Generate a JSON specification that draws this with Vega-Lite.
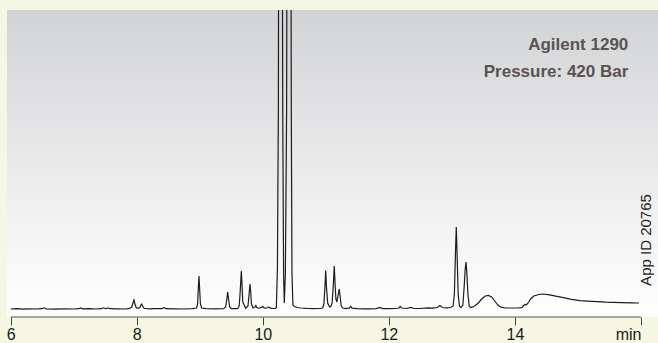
{
  "$schema": "https://vega.github.io/schema/vega-lite/v6.json",
  "autosize": "none",
  "width": 651,
  "height": 307,
  "padding": {"left": 7, "top": 10, "right": 0, "bottom": 26},
  "background": "#f5f7e3",
  "config": {
    "view": {
      "stroke": null,
      "fill": {"gradient": "linear", "x1": 0, "y1": 0, "x2": 0, "y2": 1,
        "stops": [{"offset": 0, "color": "#d2d3d5"}, {"offset": 0.6, "color": "#eeeeef"}, {"offset": 1, "color": "#ffffff"}]}
    },
    "font": "Liberation Sans"
  },
  "layer": [
    {
      "data": {"values": [
        {"t":6.00,"v":0},{"t":6.10,"v":0.3},{"t":6.20,"v":-0.2},{"t":6.30,"v":0.2},{"t":6.40,"v":0},{"t":6.50,"v":0.3},{"t":6.53,"v":1.2},{"t":6.56,"v":0.2},{"t":6.70,"v":-0.1},{"t":6.85,"v":0.2},
        {"t":7.00,"v":0},{"t":7.08,"v":0.3},{"t":7.11,"v":1.0},{"t":7.14,"v":0.2},{"t":7.25,"v":0.3},{"t":7.35,"v":0},{"t":7.44,"v":0.3},{"t":7.47,"v":1.2},{"t":7.50,"v":0.3},{"t":7.55,"v":1.0},{"t":7.58,"v":0.3},{"t":7.70,"v":0.2},{"t":7.80,"v":0},{"t":7.88,"v":0.3},
        {"t":7.92,"v":2},{"t":7.945,"v":7},{"t":7.956,"v":9},{"t":7.967,"v":6},{"t":7.99,"v":1.5},{"t":8.02,"v":0.6},{"t":8.05,"v":1.5},{"t":8.07,"v":4.5},{"t":8.078,"v":5},{"t":8.09,"v":3.5},{"t":8.115,"v":0.7},
        {"t":8.2,"v":0.2},{"t":8.3,"v":0.4},{"t":8.4,"v":0.3},{"t":8.43,"v":1.5},{"t":8.46,"v":0.3},{"t":8.6,"v":0.2},{"t":8.75,"v":0},{"t":8.88,"v":0.4},
        {"t":8.95,"v":1},{"t":8.965,"v":5},{"t":8.977,"v":21},{"t":8.987,"v":33},{"t":8.997,"v":21},{"t":9.01,"v":5},{"t":9.03,"v":1},
        {"t":9.1,"v":0.3},{"t":9.25,"v":0.2},{"t":9.38,"v":0.3},
        {"t":9.41,"v":2},{"t":9.432,"v":11},{"t":9.443,"v":17},{"t":9.454,"v":11},{"t":9.475,"v":2},{"t":9.5,"v":0.4},{"t":9.6,"v":0.3},
        {"t":9.625,"v":3},{"t":9.638,"v":14},{"t":9.649,"v":26},{"t":9.659,"v":38},{"t":9.669,"v":26},{"t":9.682,"v":7},{"t":9.73,"v":0.8},
        {"t":9.765,"v":3},{"t":9.777,"v":11},{"t":9.787,"v":18},{"t":9.797,"v":25},{"t":9.807,"v":18},{"t":9.82,"v":5},{"t":9.845,"v":1},
        {"t":9.875,"v":2},{"t":9.89,"v":3.5},{"t":9.905,"v":1.5},{"t":9.93,"v":0.8},{"t":9.96,"v":1},{"t":10.0,"v":2.5},{"t":10.02,"v":1},{"t":10.05,"v":0.8},{"t":10.08,"v":1.5},{"t":10.095,"v":2},{"t":10.12,"v":0.8},{"t":10.16,"v":0.5},{"t":10.2,"v":0.5},
        {"t":10.215,"v":1.5},{"t":10.232,"v":40},{"t":10.247,"v":200},{"t":10.262,"v":800},{"t":10.277,"v":1500},{"t":10.295,"v":800},{"t":10.316,"v":200},{"t":10.33,"v":35},{"t":10.341,"v":6},
        {"t":10.358,"v":35},{"t":10.378,"v":200},{"t":10.395,"v":800},{"t":10.415,"v":1500},{"t":10.435,"v":800},{"t":10.452,"v":200},{"t":10.463,"v":35},{"t":10.478,"v":4},
        {"t":10.5,"v":2.5},{"t":10.55,"v":1.5},{"t":10.6,"v":1},{"t":10.7,"v":0.6},{"t":10.8,"v":0.4},{"t":10.9,"v":0.5},
        {"t":10.95,"v":1},{"t":10.97,"v":5},{"t":10.986,"v":22},{"t":10.998,"v":38.5},{"t":11.01,"v":22},{"t":11.03,"v":6},{"t":11.06,"v":2},{"t":11.08,"v":2.5},
        {"t":11.1,"v":6},{"t":11.12,"v":25},{"t":11.134,"v":43},{"t":11.146,"v":26},{"t":11.16,"v":10},{"t":11.175,"v":7},{"t":11.195,"v":14},{"t":11.213,"v":20},{"t":11.228,"v":12},{"t":11.245,"v":3},{"t":11.27,"v":1},
        {"t":11.32,"v":0.3},{"t":11.37,"v":0.8},{"t":11.394,"v":2.5},{"t":11.415,"v":0.8},{"t":11.5,"v":0.3},{"t":11.6,"v":0.2},{"t":11.7,"v":0.2},{"t":11.8,"v":0.4},{"t":11.86,"v":1.5},{"t":11.9,"v":0.4},
        {"t":12.0,"v":0.3},{"t":12.1,"v":0.5},{"t":12.16,"v":1},{"t":12.18,"v":2.5},{"t":12.2,"v":1},{"t":12.28,"v":0.5},{"t":12.35,"v":1.6},{"t":12.4,"v":0.5},{"t":12.5,"v":0.5},{"t":12.62,"v":1.2},{"t":12.7,"v":0.8},
        {"t":12.77,"v":1.5},{"t":12.81,"v":3.5},{"t":12.85,"v":1.5},{"t":12.92,"v":1.2},{"t":12.98,"v":1.5},
        {"t":13.02,"v":3},{"t":13.04,"v":15},{"t":13.057,"v":55},{"t":13.07,"v":82},{"t":13.083,"v":55},{"t":13.1,"v":15},{"t":13.12,"v":3},{"t":13.145,"v":1.5},
        {"t":13.175,"v":4},{"t":13.195,"v":22},{"t":13.212,"v":40},{"t":13.224,"v":47},{"t":13.236,"v":38},{"t":13.255,"v":15},{"t":13.275,"v":3},{"t":13.3,"v":1.5},
        {"t":13.35,"v":2.5},{"t":13.42,"v":6},{"t":13.48,"v":10.5},{"t":13.53,"v":13},{"t":13.58,"v":13.6},{"t":13.63,"v":12},{"t":13.68,"v":8},{"t":13.73,"v":4},{"t":13.78,"v":1.8},{"t":13.85,"v":1},{"t":13.95,"v":1},{"t":14.05,"v":1},
        {"t":14.11,"v":1.3},{"t":14.14,"v":3.5},{"t":14.16,"v":4.6},{"t":14.18,"v":4},{"t":14.21,"v":6},{"t":14.25,"v":10},{"t":14.3,"v":13},{"t":14.38,"v":14.5},{"t":14.45,"v":15},{"t":14.55,"v":14.2},{"t":14.65,"v":12.8},{"t":14.77,"v":11.3},{"t":14.9,"v":9.6},
        {"t":15.03,"v":8.3},{"t":15.15,"v":7.8},{"t":15.3,"v":7.3},{"t":15.45,"v":6.8},{"t":15.56,"v":6.6},{"t":15.7,"v":6.4},{"t":15.85,"v":6.1},{"t":15.97,"v":6}
      ]},
      "mark": {"type": "line", "clip": true, "color": "#1c1c1c", "strokeWidth": 1.2},
      "encoding": {
        "x": {"field": "t", "type": "quantitative",
          "scale": {"domain": [5.941, 16.271], "nice": false, "zero": false},
          "axis": {"values": [6, 8, 10, 12, 14, 16], "format": "d", "domain": false, "grid": false, "title": null,
            "tickSize": 8, "tickColor": "#444", "tickWidth": 1,
            "labelFontSize": 16, "labelColor": "#1a1a1a", "labelPadding": 1, "labelFlush": false, "labelBound": false, "labelOverlap": false,
            "labelExpr": "datum.value == 16 ? 'min' : datum.label",
            "labelAlign": {"condition": {"test": "datum.value == 16", "value": "right"}, "value": "center"}}},
        "y": {"field": "v", "type": "quantitative",
          "scale": {"domain": [-8, 299], "nice": false, "zero": false}, "axis": null}
      }
    },
    {
      "data": {"values": [{}]},
      "mark": {"type": "rule", "color": "#555", "strokeWidth": 1},
      "encoding": {"x": {"datum": 6, "type": "quantitative"}, "x2": {"datum": 16}, "y": {"datum": -8, "type": "quantitative"}}
    },
    {
      "data": {"values": [{}]},
      "mark": {"type": "text", "text": "Agilent 1290", "align": "right", "baseline": "alphabetic", "fontSize": 17, "fontWeight": "bold", "color": "#5a5352"},
      "encoding": {"x": {"datum": 15.8, "type": "quantitative"}, "y": {"datum": 259, "type": "quantitative"}}
    },
    {
      "data": {"values": [{}]},
      "mark": {"type": "text", "text": "Pressure: 420 Bar", "align": "right", "baseline": "alphabetic", "fontSize": 17, "fontWeight": "bold", "color": "#5a5352"},
      "encoding": {"x": {"datum": 15.8, "type": "quantitative"}, "y": {"datum": 232, "type": "quantitative"}}
    },
    {
      "data": {"values": [{}]},
      "mark": {"type": "text", "text": "App ID 20765", "angle": 270, "align": "center", "baseline": "middle", "fontSize": 15, "color": "#222"},
      "encoding": {"x": {"datum": 16.08, "type": "quantitative"}, "y": {"datum": 69, "type": "quantitative"}}
    }
  ]
}
